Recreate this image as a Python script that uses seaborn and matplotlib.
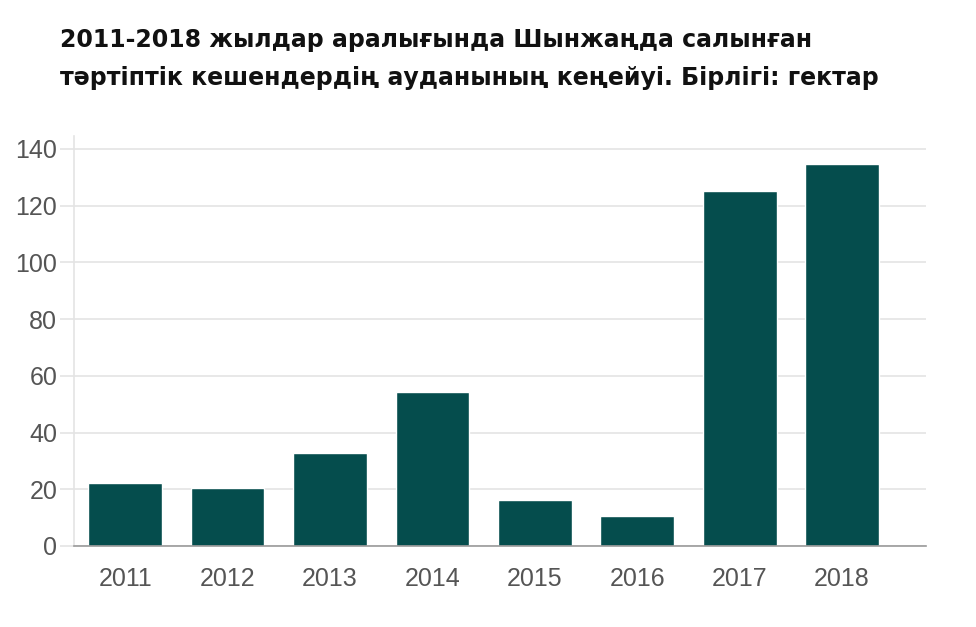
import matplotlib
matplotlib.use("Agg")
import matplotlib.pyplot as plt
import seaborn as sns
import pandas as pd

years = ["2011", "2012", "2013", "2014", "2015", "2016", "2017", "2018"]
area = [22.2, 20.5, 32.8, 54.3, 16.2, 10.6, 125.3, 134.6]
yticks = [0, 20, 40, 60, 80, 100, 120, 140]
title_lines = ["2011-2018 жылдар аралығында Шынжаңда салынған",
               "тәртіптік кешендердің ауданының кеңейуі. Бірлігі: гектар"]

sns.set_theme(style="white")
plt.rcParams['font.family'] = ['Liberation Sans', 'DejaVu Sans']

df = pd.DataFrame({"year": years, "area": area})

W, H = 976, 627
fig = plt.figure(figsize=(W / 100, H / 100), dpi=100)
ax = fig.add_axes([0.0758, 0.1292, 0.8730, 0.6540])
sns.barplot(data=df, x="year", y="area", color="#054d4d", saturation=1,
            width=0.72, ax=ax)

ax.set_xlim(-0.5, 7.82)
ax.set_ylim(0, 144.6)
ax.set_yticks(yticks)
ax.set_xlabel("")
ax.set_ylabel("")
ax.yaxis.grid(True, color="#e4e4e4", linewidth=1.2)
ax.set_axisbelow(True)
for s in ["top", "right"]:
    ax.spines[s].set_visible(False)
ax.spines["left"].set_color("#e4e4e4")
ax.spines["left"].set_linewidth(1.2)
ax.spines["bottom"].set_color("#9a9a9a")
ax.spines["bottom"].set_linewidth(1.2)
ax.tick_params(axis="y", length=10, width=1.2, color="#e4e4e4", pad=2,
               labelsize=18, labelcolor="#555555", left=True)
ax.tick_params(axis="x", length=0, pad=15, labelsize=18, labelcolor="#555555")

for line, base in zip(title_lines, [47, 85]):
    fig.text(60 / W, 1 - base / H, line, fontsize=17, fontweight="bold",
             family=["DejaVu Sans"], ha="left", va="baseline", color="#111111")

fig.savefig("out.png", dpi=100)
